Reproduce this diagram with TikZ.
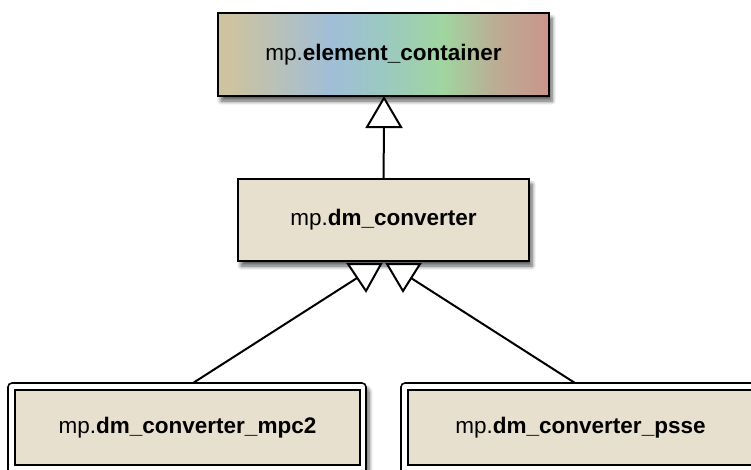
\documentclass[tikz,border=0pt]{standalone}
\usepackage{fontspec}
\setmainfont{Liberation Sans}
\usetikzlibrary{shadows.blur}
\definecolor{c0}{RGB}{205,195,160}
\definecolor{c1}{RGB}{160,190,215}
\definecolor{c2}{RGB}{155,200,195}
\definecolor{c3}{RGB}{160,213,160}
\definecolor{c4}{RGB}{188,172,148}
\definecolor{c5}{RGB}{202,148,140}
\definecolor{boxfill}{RGB}{232,224,206}
\pgfdeclarehorizontalshading{ecshade}{100bp}{color(0bp)=(c0); color(27bp)=(c0); color(42bp)=(c1); color(49.5bp)=(c2); color(59bp)=(c3); color(67bp)=(c4); color(75bp)=(c5); color(100bp)=(c5)}
\tikzset{
  myshadow/.style={blur shadow={shadow xshift=3pt, shadow yshift=-5pt, shadow blur steps=6, shadow blur radius=4pt, shadow opacity=65}},
  classbox/.style={draw=black, line width=2pt, fill=boxfill, inner sep=0pt, font=\fontsize{22.5}{27}\selectfont},
  frame/.style={draw=black, line width=1.6pt, fill=white, rounded corners=4pt, inner sep=0pt},
  tri/.style={draw=black, line width=2pt, fill=white, line join=miter},
  conn/.style={draw=black, line width=2pt}
}
\begin{document}
\begin{tikzpicture}[x=1pt,y=-1pt]
\useasboundingbox (0,0) rectangle (751,469);
% top box
\node[classbox, shading=ecshade, myshadow, minimum width=331pt, minimum height=83pt] (ec) at (383.5,54.5) {mp.\textbf{element\_container}};
% middle box
\node[classbox, myshadow, minimum width=291pt, minimum height=82pt] (dm) at (383.5,220) {mp.\textbf{dm\_converter}};
% bottom frames
\node[frame, myshadow, minimum width=358pt, minimum height=104pt] (lfr) at (187,435) {};
\node[classbox, minimum width=345pt, minimum height=75pt] (mpc) at (187.5,427.5) {mp.\textbf{dm\_converter\_mpc2}};
\node[frame, myshadow, minimum width=358pt, minimum height=104pt] (rfr) at (580,435) {};
\node[classbox, minimum width=345pt, minimum height=75pt] (psse) at (580.5,427.5) {mp.\textbf{dm\_converter\_psse}};
% top generalization
\coordinate (t1tip) at (384,98);
\coordinate (t1l) at (367,127);
\coordinate (t1r) at (401,127);
\coordinate (t1b) at (384,127);
\draw[conn] (dm.north) -- (t1b);
\draw[tri] (t1tip) -- (t1l) -- (t1r) -- cycle;
% bottom generalizations
\coordinate (l1) at (348,264);
\coordinate (l2) at (381,264);
\coordinate (l3) at (366,291);
\coordinate (lend) at (357,278);
\coordinate (lstart) at (193,383);
\coordinate (r1) at (387,264);
\coordinate (r2) at (420,264);
\coordinate (r3) at (403,291);
\coordinate (rend) at (411,278);
\coordinate (rstart) at (575,383);
\draw[conn] (lstart) -- (lend);
\draw[conn] (rstart) -- (rend);
\draw[tri] (l1) -- (l2) -- (l3) -- cycle;
\draw[tri] (r1) -- (r2) -- (r3) -- cycle;
\end{tikzpicture}
\end{document}
